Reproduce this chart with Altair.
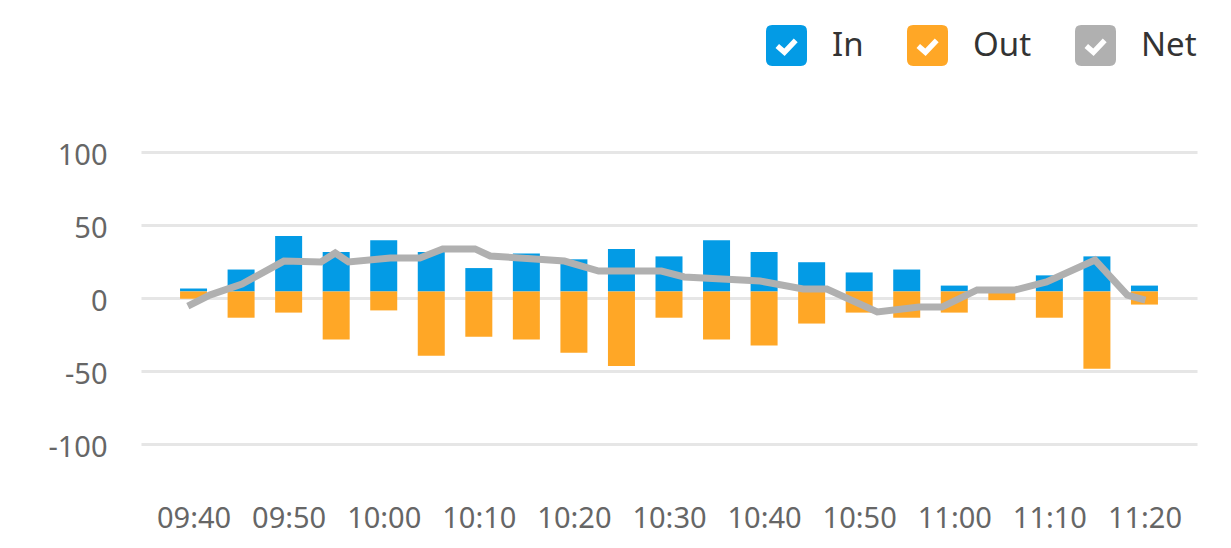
import altair as alt
import pandas as pd

# ---- data ----
bar_times = ["09:40", "09:45", "09:50", "09:55", "10:00", "10:05", "10:10", "10:15",
             "10:20", "10:25", "10:30", "10:35", "10:40", "10:45", "10:50", "10:55",
             "11:00", "11:05", "11:10", "11:15", "11:20"]
in_values = [2, 15, 38, 27, 35, 27, 16, 26, 22, 29, 24, 35, 27, 20, 13, 15, 4, 0, 11, 24, 4]
out_values = [-5, -18, -14.5, -33, -13, -44, -31, -33, -42, -51, -18, -33, -37, -22,
              -14.5, -18, -14.5, -6, -18, -53, -9]

net_times = ["09:39:24", "09:41:42", "09:45:06", "09:49:30", "09:53:24", "09:54:54",
             "09:56:18", "10:00:42", "10:03:48", "10:06:12", "10:09:36", "10:11:12",
             "10:19:00", "10:22:36", "10:29:12", "10:31:36", "10:39:36", "10:44:06",
             "10:46:36", "10:51:54", "10:56:18", "10:58:42", "11:02:24", "11:06:24",
             "11:09:42", "11:14:48", "11:18:12", "11:20:06"]
net_values = [-5.5, 2, 9.6, 25.3, 24.7, 30.8, 24.7, 27.4, 27.4, 33.6, 33.6, 28.8,
              25.3, 18.5, 18.5, 14.4, 11.6, 6.2, 6.2, -9.6, -6.2, -6.2, 5.5, 5.5,
              11, 26, 2, -1.4]

series_names = ["In", "Out", "Net"]
series_colors = ["#039be5", "#ffa726", "#b0b0b0"]
tick_labels = ["09:40", "09:50", "10:00", "10:10", "10:20", "10:30", "10:40",
               "10:50", "11:00", "11:10", "11:20"]
y_ticks = [-100, -50, 0, 50, 100]
x_start, x_end = "09:35", "11:25"

DAY = "2024-01-01T"


def dt(s):
    parts = [int(p) for p in s.split(":")]
    while len(parts) < 3:
        parts.append(0)
    return alt.DateTime(year=2024, month=1, date=1, hours=parts[0],
                        minutes=parts[1], seconds=parts[2])


rows = []
for t, v in zip(bar_times, in_values):
    rows.append({"time": DAY + t + ":00", "series": "In", "value": v})
for t, v in zip(bar_times, out_values):
    rows.append({"time": DAY + t + ":00", "series": "Out", "value": v})
bars_df = pd.DataFrame(rows)

net_df = pd.DataFrame({"time": [DAY + t for t in net_times], "value": net_values})

FONT = "Noto Sans"

# rounded square with a check-mark hole (opposite winding)
CHECK_BOX = ("M-0.7,-1H0.7Q1,-1 1,-0.7V0.7Q1,1 0.7,1H-0.7Q-1,1 -1,0.7V-0.7Q-1,-1 -0.7,-1Z"
             "M-0.364,-0.077L-0.536,0.117L-0.092,0.511L0.544,-0.161L0.356,-0.339L-0.108,0.149Z")

x_enc = alt.X(
    "time:T",
    title=None,
    scale=alt.Scale(domain=[dt(x_start), dt(x_end)]),
    axis=alt.Axis(
        values=[dt(s) for s in tick_labels],
        format="%H:%M",
        grid=False, domain=False, ticks=False,
        labelFont=FONT, labelFontSize=29, labelColor="#666666",
        labelPadding=60, labelFlush=False,
    ),
)

bars = alt.Chart(bars_df).mark_bar(size=27).encode(
    x=x_enc,
    y=alt.Y("value:Q", stack=None, axis=None,
            scale=alt.Scale(domain=[-104.5, 95.5], nice=False)),
    color=alt.Color(
        "series:N",
        scale=alt.Scale(domain=series_names, range=series_colors),
        legend=alt.Legend(
            title=None, orient="none", legendX=625, legendY=-127,
            direction="horizontal", symbolType=CHECK_BOX, symbolSize=1681,
            symbolStrokeWidth=0, symbolOpacity=1,
            labelFont=FONT, labelFontSize=33, labelColor="#333333",
            labelOffset=25, columnPadding=43, padding=0,
        ),
    ),
)

line = alt.Chart(net_df).mark_line(strokeWidth=7, color="#b0b0b0").encode(
    x=x_enc,
    y=alt.Y(
        "value:Q", title=None,
        scale=alt.Scale(domain=[-100, 100], nice=False),
        axis=alt.Axis(
            values=y_ticks, grid=True, gridColor="#e6e6e6", gridWidth=3,
            domain=False, ticks=False, labelFont=FONT, labelFontSize=29,
            labelColor="#666666", labelPadding=34, labelOffset=3,
            labelExpr="'' + datum.value",
        ),
    ),
)

chart = (
    alt.layer(bars, line)
    .resolve_scale(y="independent")
    .properties(
        width=1056, height=292,
        autosize=alt.AutoSizeParams(type="none"),
        padding={"left": 133, "top": 144, "right": 24, "bottom": 90},
        background="white",
    )
    .configure_view(stroke=None)
)

chart.save("out.html", embed_options={"renderer": "svg", "actions": False})
